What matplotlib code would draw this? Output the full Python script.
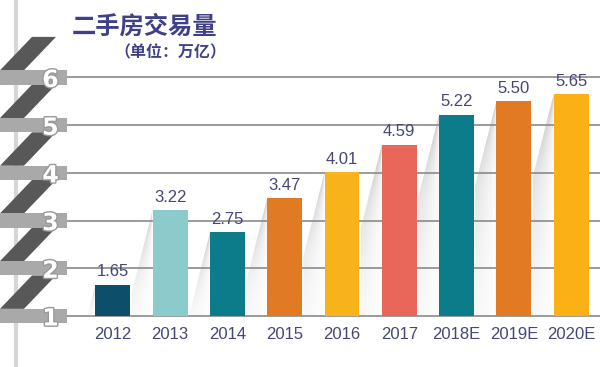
import numpy as np
import matplotlib
matplotlib.use('Agg')
import matplotlib.pyplot as plt
import matplotlib.transforms as mtransforms
import matplotlib.patheffects as pe
from matplotlib.patches import Rectangle, Polygon
from matplotlib.lines import Line2D

years = ['2012', '2013', '2014', '2015', '2016', '2017', '2018E', '2019E', '2020E']
values = [1.65, 3.22, 2.75, 3.47, 4.01, 4.59, 5.22, 5.50, 5.65]
colors = ['#0d4e6a', '#8ccbcb', '#0c7b8a', '#e07b24', '#f8b31a',
          '#e8675a', '#0c7b8a', '#e27a24', '#fbb116']
ticks = [1, 2, 3, 4, 5, 6]
title = '二手房交易量'
subtitle = '（单位：万亿）'

txt_color = '#45457a'
title_color = '#40408a'
num_font = 'Liberation Sans'

fig = plt.figure(figsize=(6, 3.67), dpi=100)
fig.patch.set_facecolor('white')
ax = fig.add_axes([0.1117, 0.139, 0.888, 0.650])
ax.patch.set_visible(False)
for s in ax.spines.values():
    s.set_visible(False)

x = np.arange(len(years))
bw = 0.61

# gridlines
ax.hlines(ticks, -0.80, 8.5, color='#8a8a8a', lw=1.2, zorder=2, clip_on=False)

# soft shadows to the left of each bar
sx, sy = 0.37, 1.76
for i, v in enumerate(values):
    left = i - bw / 2
    poly = Polygon([(left, v), (left - sx, v - sy), (left - sx, 1), (left, 1)],
                   closed=True, facecolor='none', edgecolor='none')
    ax.add_patch(poly)
    gx = np.linspace(left - sx, left, 60)
    gy = np.linspace(1, v, 120)
    X, Y = np.meshgrid(gx, gy)
    slant = left - sx * np.clip((v - Y) / sy, 1e-3, 1)
    rel = np.clip((left - X) / (left - slant), 0, 1)
    fade = 0.15 + 0.85 * ((Y - 1) / max(v - 1, 1e-3)) ** 1.5
    alpha = 0.40 * rel ** 0.9 * fade
    img = np.zeros((len(gy), len(gx), 4))
    img[..., :3] = 0.5
    img[..., 3] = alpha
    im = ax.imshow(img, extent=(left - sx, left, 1, v), origin='lower',
                   aspect='auto', zorder=1, interpolation='bilinear')
    im.set_clip_path(poly)

ax.bar(x, values, width=bw, color=colors, zorder=3)
ax.set_xlim(-0.80, 8.5)
ax.set_ylim(1, 6)

for xi, v in zip(x, values):
    ax.annotate(f'{v:.2f}', (xi, v), xytext=(0, 4), textcoords='offset points',
                ha='center', va='bottom', fontsize=12, color=txt_color,
                family=num_font, clip_on=False, zorder=4)

ax.set_xticks(x)
ax.set_xticklabels(years, fontsize=12, color=txt_color, family=num_font)
ax.tick_params(axis='x', length=0, pad=8)

ax.set_yticks(ticks)
ax.set_yticklabels([str(t) for t in ticks], fontsize=17, color='white',
                   family='DejaVu Sans', fontweight='bold')
ax.tick_params(axis='y', length=0, pad=6)
for lbl in ax.get_yticklabels():
    lbl.set_path_effects([pe.withStroke(linewidth=2.0, foreground='#999999')])

# staircase decoration on the left
blend = mtransforms.blended_transform_factory(fig.transFigure, ax.transData)
fig.add_artist(Line2D([0.026, 0.026], [0, 1], transform=fig.transFigure,
                      color='#d6d6d6', lw=3, zorder=-1))
for k in ticks:
    ax.add_patch(Polygon([(0, k + 0.15), (24 / 600, k + 0.15),
                          (56 / 600, k + 0.85), (32 / 600, k + 0.85)],
                         closed=True, transform=blend, facecolor='#585858',
                         edgecolor='none', zorder=0.7, clip_on=False))
    ax.add_patch(Rectangle((0, k - 0.15), 67 / 600, 0.30, transform=blend,
                           facecolor='#a9a9a9', edgecolor='none', zorder=0.8,
                           clip_on=False))

fig.text(72 / 600, 1 - 27 / 367, title, fontsize=17.5, fontweight='bold',
         color=title_color, family='Noto Sans CJK SC', ha='left', va='center')
fig.text(226 / 600, 1 - 52 / 367, subtitle, fontsize=11.5, fontweight='bold',
         color=title_color, family='Noto Sans CJK SC', ha='right', va='center')

fig.savefig('out.png', dpi=100)
